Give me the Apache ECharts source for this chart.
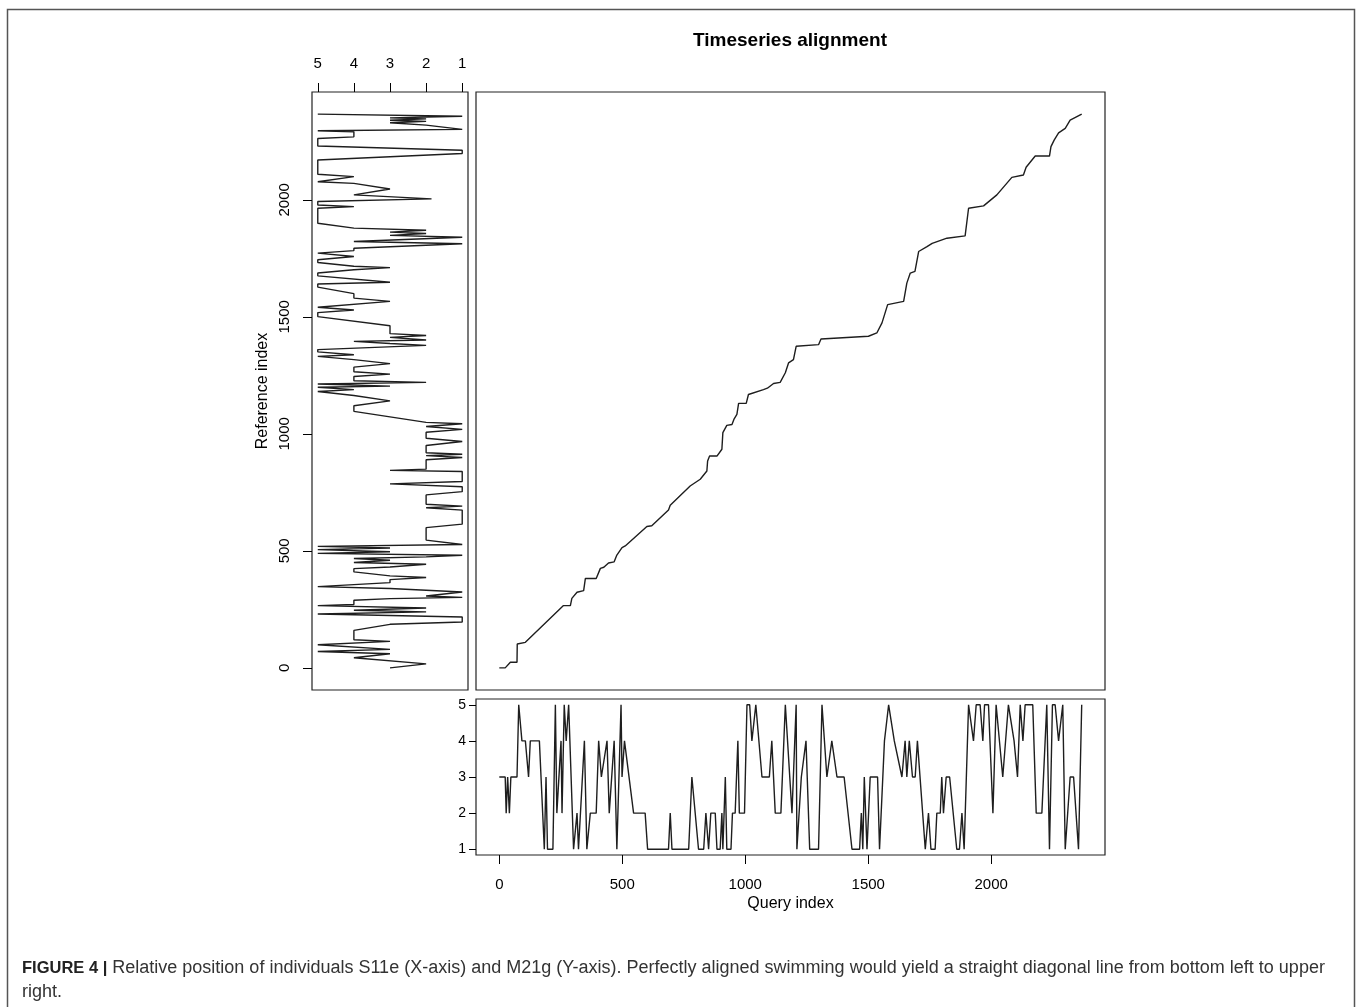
<!DOCTYPE html>
<html>
<head>
<meta charset="utf-8">
<script src="https://cdn.jsdelivr.net/npm/echarts@6/dist/echarts.min.js"></script>
<style>
html,body{margin:0;padding:0;background:#fff;}
#chart{width:1362px;height:1007px;}
</style>
</head>
<body>
<div id="chart"></div>
<script>
// ---- Data ----
// Query series (bottom panel): query index vs position (1..5)
const queryIdx = [0,24,28,34,41,47,72,79,92,106,119,126,163,183,190,196,218,228,234,251,255,264,272,282,289,302,316,322,346,356,370,394,404,415,438,447,467,478,495,499,509,546,593,603,688,695,702,770,783,810,831,840,851,860,878,885,898,905,909,919,925,942,948,959,970,976,997,1007,1018,1027,1043,1068,1098,1108,1122,1145,1163,1190,1207,1210,1228,1247,1262,1298,1312,1318,1332,1352,1373,1402,1434,1465,1472,1478,1484,1495,1508,1538,1546,1566,1583,1589,1606,1614,1637,1650,1657,1667,1680,1691,1700,1707,1732,1745,1755,1772,1779,1793,1799,1806,1817,1831,1860,1871,1881,1890,1908,1928,1939,1955,1966,1973,1989,2007,2020,2047,2070,2093,2107,2118,2129,2138,2169,2183,2206,2226,2237,2249,2260,2274,2291,2301,2321,2335,2355,2368];
const queryVal = [3,3,2,3,2,3,3,5,4,4,3,4,4,1,3,1,1,5,2,4,2,5,4,5,5,1,2,1,4,1,2,2,4,3,4,2,4,1,5,3,4,2,2,1,1,2,1,1,3,1,1,2,1,2,2,1,1,2,1,3,1,1,2,2,4,2,2,5,5,4,5,3,3,4,2,2,5,2,5,1,3,4,1,1,5,5,3,4,3,3,1,1,2,1,3,1,3,3,1,4,5,5,4,4,3,4,3,4,3,3,4,4,1,2,1,1,2,2,3,2,3,3,1,1,2,1,5,4,5,5,4,5,5,2,5,3,5,4,3,5,4,5,5,2,2,5,1,5,5,4,5,1,3,3,1,5];

// Reference series (left panel): reference index vs position (1..5)
const refIdx = [0,17,43,60,70,79,99,113,120,160,186,196,217,230,239,246,256,266,271,289,296,301,307,324,339,347,364,377,386,393,410,424,431,443,450,460,467,474,481,489,496,505,512,519,527,546,599,614,674,684,691,699,739,753,774,786,796,839,844,849,889,899,907,913,919,950,967,981,1007,1019,1031,1043,1049,1096,1120,1141,1164,1181,1189,1199,1204,1213,1220,1227,1245,1255,1265,1285,1300,1317,1331,1338,1350,1360,1378,1386,1395,1401,1412,1420,1428,1462,1501,1518,1529,1541,1566,1580,1599,1627,1640,1648,1675,1687,1701,1710,1716,1732,1744,1758,1772,1783,1793,1812,1822,1829,1840,1848,1856,1862,1870,1879,1900,1964,1971,1978,1993,2004,2021,2046,2070,2077,2099,2109,2170,2198,2212,2230,2262,2269,2291,2295,2301,2319,2329,2335,2340,2346,2350,2357,2366];
const refVal = [3,2,4,3,5,3,5,3,4,4,3,1,1,5,2,4,2,5,4,4,3,1,2,1,3,5,3,3,2,3,4,4,3,2,4,3,4,2,1,5,3,5,3,5,1,2,2,1,1,2,1,2,2,1,1,3,1,1,3,2,2,1,2,1,2,2,1,2,2,1,2,1,2,4,4,3,4,5,4,5,3,5,2,4,4,3,4,4,3,4,5,4,5,5,2,3,4,2,3,2,3,3,5,5,4,5,3,4,4,5,5,3,5,5,4,3,4,5,5,4,5,4,4,1,4,4,1,3,2,3,2,4,5,5,4,5,5,1.85,4,3,4,5,4,5,5,1,1,5,5,4,4,5,1,2,3,2,3,2,3,1,5];

// Warping path (main panel): query index vs reference index
const pathQuery = [0,24,45,72,73,106,261,289,295,316,343,347,350,394,411,425,444,467,478,499,512,600,620,688,695,776,817,844,847,855,885,905,909,925,946,955,966,973,1004,1013,1074,1090,1115,1142,1163,1176,1196,1207,1298,1308,1501,1535,1556,1579,1644,1657,1671,1690,1705,1739,1760,1820,1894,1908,1969,2023,2084,2131,2142,2179,2237,2243,2256,2274,2301,2321,2368];
const pathRef   = [0,0,24,24,102,109,266,266,297,323,330,330,382,382,425,430,448,453,482,514,521,604,607,675,695,777,806,841,884,905,905,934,1005,1036,1040,1064,1083,1130,1130,1168,1189,1195,1215,1220,1261,1303,1317,1374,1381,1405,1417,1431,1474,1552,1566,1644,1687,1694,1779,1800,1814,1836,1846,1964,1974,2021,2096,2106,2139,2187,2187,2227,2255,2286,2305,2340,2366];

const idxTicks = [0,500,1000,1500,2000];
const posTicks = [1,2,3,4,5];

const titleText = 'Timeseries alignment';
const xName = 'Query index';
const yName = 'Reference index';
const captionBold = 'FIGURE 4 |';
const captionText = ' Relative position of individuals S11e (X-axis) and M21g (Y-axis). Perfectly aligned swimming would yield a straight diagonal line from bottom left to upper\nright.';

// ---- Helpers ----
function rRange(lo, hi){ const d = (hi-lo)*0.04; return [lo-d, hi+d]; }
const qMax = Math.max(...queryIdx, ...pathQuery);
const rMax = Math.max(...refIdx, ...pathRef);
const qR = rRange(0, qMax);
const rR = rRange(0, rMax);
const pR = rRange(1, 5);

const FONT = 'Liberation Sans, Arial, Helvetica, sans-serif';
const lineStyle = {color:'#1e1e1e', width:1.4};
const tickStyle = {color:'#000', width:1};
const plain = v => String(v);
const noLine = {show:false, onZero:false};

const chart = echarts.init(document.getElementById('chart'), null, {renderer:'canvas'});

const option = {
  animation: false,
  backgroundColor: '#fff',
  textStyle: {fontFamily: FONT},
  grid: [
    {left:312, top:92, width:156, height:598, show:true, borderColor:'#222', borderWidth:1.2, backgroundColor:'transparent'},
    {left:476, top:92, width:629, height:598, show:true, borderColor:'#222', borderWidth:1.2, backgroundColor:'transparent'},
    {left:476, top:699, width:629, height:156, show:true, borderColor:'#222', borderWidth:1.2, backgroundColor:'transparent'}
  ],
  xAxis: [
    {gridIndex:0, type:'value', position:'top', inverse:true, min:pR[0], max:pR[1],
     axisLine:noLine, splitLine:{show:false},
     axisTick:{show:true, customValues:posTicks, length:9, lineStyle:tickStyle},
     axisLabel:{customValues:posTicks, formatter:plain, fontSize:15, color:'#000', margin:21, fontFamily:FONT}},
    {gridIndex:1, type:'value', min:qR[0], max:qR[1], show:false, axisLine:noLine},
    {gridIndex:2, type:'value', position:'bottom', min:qR[0], max:qR[1],
     axisLine:noLine, splitLine:{show:false},
     axisTick:{show:true, customValues:idxTicks, length:9, lineStyle:tickStyle},
     axisLabel:{customValues:idxTicks, formatter:plain, fontSize:15, color:'#000', margin:22, fontFamily:FONT},
     name:xName, nameLocation:'middle', nameGap:41, nameTextStyle:{fontSize:16, color:'#000', fontFamily:FONT}}
  ],
  yAxis: [
    {gridIndex:0, type:'value', position:'left', min:rR[0], max:rR[1],
     axisLine:noLine, splitLine:{show:false},
     axisTick:{show:true, customValues:idxTicks, length:9, lineStyle:tickStyle},
     axisLabel:{customValues:idxTicks, formatter:plain, fontSize:15, color:'#000', margin:20, rotate:90, fontFamily:FONT},
     name:yName, nameLocation:'middle', nameGap:41, nameRotate:90, nameTextStyle:{fontSize:16, color:'#000', fontFamily:FONT}},
    {gridIndex:1, type:'value', min:rR[0], max:rR[1], show:false, axisLine:noLine},
    {gridIndex:2, type:'value', position:'left', min:pR[0], max:pR[1],
     axisLine:noLine, splitLine:{show:false},
     axisTick:{show:true, customValues:posTicks, length:7, lineStyle:tickStyle},
     axisLabel:{customValues:posTicks, formatter:plain, fontSize:14, color:'#000', margin:10, fontFamily:FONT}}
  ],
  series: [
    {type:'line', xAxisIndex:0, yAxisIndex:0, showSymbol:false, symbol:'none', lineStyle:lineStyle,
     data: refIdx.map((r,i)=>[refVal[i], r])},
    {type:'line', xAxisIndex:1, yAxisIndex:1, showSymbol:false, symbol:'none', lineStyle:lineStyle,
     data: pathQuery.map((q,i)=>[q, pathRef[i]])},
    {type:'line', xAxisIndex:2, yAxisIndex:2, showSymbol:false, symbol:'none', lineStyle:lineStyle,
     data: queryIdx.map((q,i)=>[q, queryVal[i]])}
  ],
  graphic: [
    {type:'rect', silent:true, shape:{x:7.5, y:9.5, width:1347, height:1010},
     style:{fill:'none', stroke:'#555', lineWidth:1.5}},
    {type:'text', silent:true, x:790, y:41,
     style:{text:titleText, align:'center', verticalAlign:'middle', font:'bold 19px ' + FONT, fill:'#000'}},
    {type:'text', silent:true, x:22, y:956,
     style:{text:'{b|' + captionBold + '}' + captionText, font:'18px ' + FONT, fill:'#333', lineHeight:24,
            rich:{b:{font:'bold 16.5px ' + FONT, fill:'#222'}}}}
  ]
};
chart.setOption(option);
</script>
</body>
</html>
